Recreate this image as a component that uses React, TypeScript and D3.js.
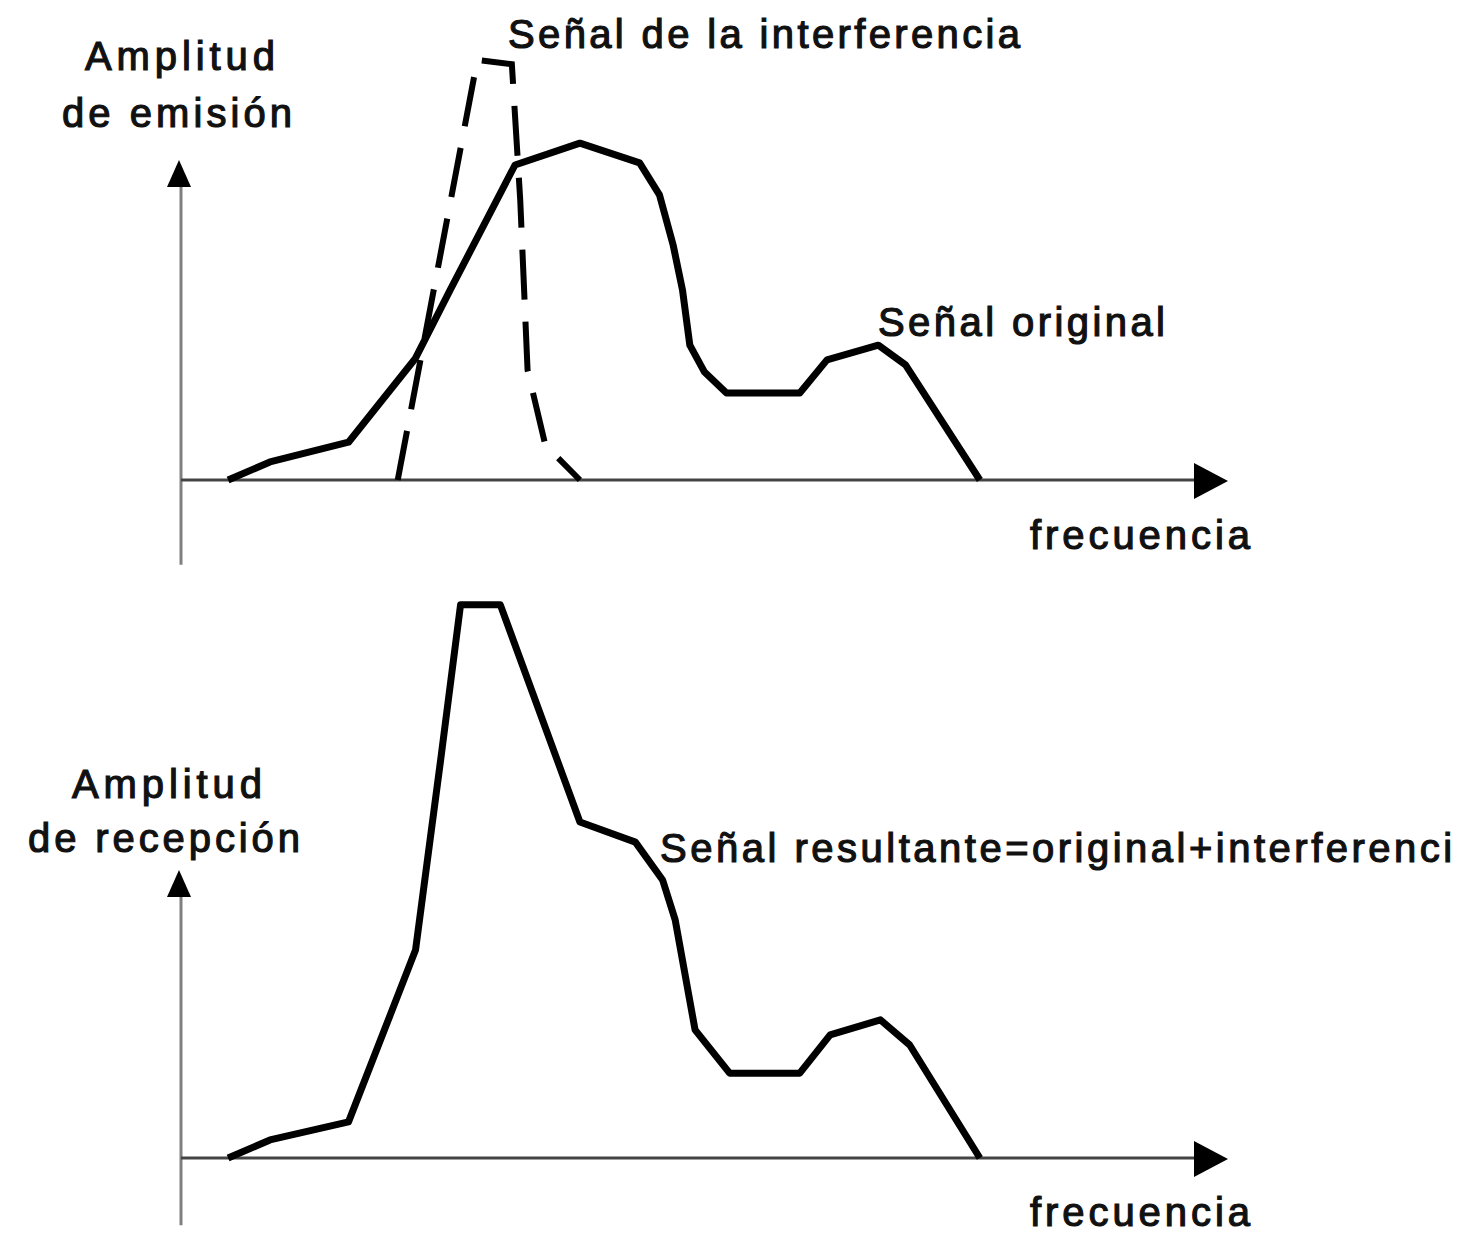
import React from "react";
import * as d3 from "d3";

// Señal original (emisión)
const freqOriginal = [4.5, 8.5, 16.0, 22.4, 25.7, 31.9, 38.1, 43.8, 45.7, 47.0, 47.9, 48.6, 50.0, 52.1, 59.1, 61.7, 66.6, 69.2, 76.3];
const ampOriginal = [0, 4.3, 9.0, 29.0, 45.2, 75.0, 80.2, 75.5, 67.9, 56.0, 45.2, 32.1, 25.7, 20.7, 20.7, 28.6, 32.1, 27.4, 0];

// Señal de la interferencia
const freqInterf = [20.7, 28.3, 31.6, 32.4, 33.1, 34.8, 38.1];
const ampInterf = [0, 100, 99, 66.7, 26.2, 8.3, 0];

// Señal resultante (recepción)
const freqResult = [4.5, 8.5, 16.0, 22.4, 24.8, 26.7, 30.5, 38.1, 43.4, 46.0, 47.2, 49.1, 52.4, 59.1, 62.0, 66.8, 69.6, 76.3];
const ampResult = [0, 4.3, 8.6, 49.5, 94.8, 131.7, 131.7, 80.0, 75.2, 66.2, 56.7, 30.5, 20.2, 20.2, 29.3, 32.9, 26.9, 0];

const W = 1475;
const H = 1234;
const FONT = "'Liberation Sans', Arial, sans-serif";

type Pt = [number, number];
const zip = (xs: number[], ys: number[]): Pt[] => xs.map((v, i) => [v, ys[i]]);

export default function App() {
  const x = d3.scaleLinear().domain([0, 100]).range([181, 1228]);
  const yTop = d3.scaleLinear().domain([0, 100]).range([480, 60]);
  const yBot = d3.scaleLinear().domain([0, 100]).range([1158, 738]);

  const lineTop = d3.line<Pt>().x((d) => x(d[0])).y((d) => yTop(d[1]));
  const lineBot = d3.line<Pt>().x((d) => x(d[0])).y((d) => yBot(d[1]));

  const x0 = x(0);
  const xEnd = x(100);

  const axes = (y: d3.ScaleLinear<number, number>, yTip: number, yLow: number) => {
    const base = y(0);
    const tipY = y(yTip);
    return (
      <g>
        <line x1={x0} x2={x0} y1={y(yLow)} y2={tipY + 24} stroke="#808080" strokeWidth={3} />
        <path d={`M${x0 - 2},${tipY} L${x0 - 14},${tipY + 27} L${x0 + 10},${tipY + 27} Z`} fill="#000" />
        <line x1={x0} x2={xEnd - 30} y1={base} y2={base} stroke="#444" strokeWidth={3} />
        <path d={`M${xEnd},${base + 1} L${xEnd - 34},${base - 17} L${xEnd - 34},${base + 19} Z`} fill="#000" />
      </g>
    );
  };

  const txt = (s: string, tx: number, ty: number, len: number) => (
    <text
      x={tx}
      y={ty}
      textLength={len}
      lengthAdjust="spacing"
      fontFamily={FONT}
      fontSize={40}
      fill="#111"
      stroke="#111"
      strokeWidth={1.2}
    >
      {s}
    </text>
  );

  return (
    <svg width={W} height={H} style={{ position: "absolute", left: 0, top: 0, background: "#fff" }}>
      <defs>
        <clipPath id="clipRight">
          <rect x={0} y={0} width={1452} height={H} />
        </clipPath>
      </defs>
      <rect x={0} y={0} width={W} height={H} fill="#fff" />

      {axes(yTop, 76.2, -20.2)}
      {axes(yBot, 68.6, -16)}

      <path
        d={lineTop(zip(freqInterf, ampInterf)) || ""}
        fill="none"
        stroke="#000"
        strokeWidth={6}
        strokeDasharray="50 22"
        strokeLinejoin="miter"
      />
      <path
        d={lineTop(zip(freqOriginal, ampOriginal)) || ""}
        fill="none"
        stroke="#000"
        strokeWidth={7}
        strokeLinejoin="round"
      />

      <path
        d={lineBot(zip(freqResult, ampResult)) || ""}
        fill="none"
        stroke="#000"
        strokeWidth={7}
        strokeLinejoin="round"
      />

      {txt("Señal de la interferencia", 508, 48, 512)}
      {txt("Amplitud", 85, 70, 190)}
      {txt("de emisión", 62, 127, 230)}
      {txt("Señal original", 878, 336, 287)}
      {txt("frecuencia", 1030, 549, 220)}

      {txt("Amplitud", 72, 798, 190)}
      {txt("de recepción", 28, 852, 272)}
      <g clipPath="url(#clipRight)">
        {txt("Señal resultante=original+interferencia", 660, 862, 818)}
      </g>
      {txt("frecuencia", 1030, 1226, 220)}
    </svg>
  );
}
